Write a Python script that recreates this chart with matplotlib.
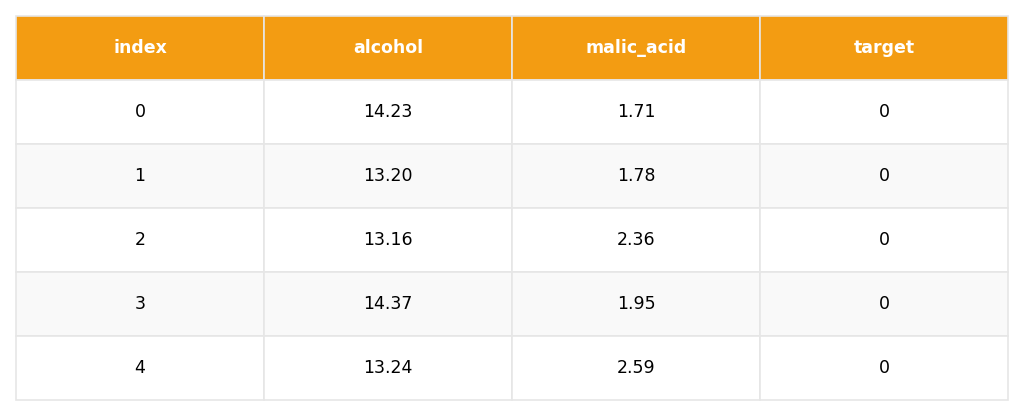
import matplotlib
matplotlib.use("Agg")
import matplotlib.pyplot as plt

columns = ["index", "alcohol", "malic_acid", "target"]
index = ["0", "1", "2", "3", "4"]
alcohol = ["14.23", "13.20", "13.16", "14.37", "13.24"]
malic_acid = ["1.71", "1.78", "2.36", "1.95", "2.59"]
target = ["0", "0", "0", "0", "0"]

rows = list(zip(index, alcohol, malic_acid, target))

fig = plt.figure(figsize=(10.24, 4.16), dpi=100)
ax = fig.add_axes([16/1024, 16/416, 992/1024, 384/416])
ax.axis("off")
tbl = ax.table(cellText=rows, colLabels=columns, cellLoc="center", bbox=[0, 0, 1, 1])
tbl.auto_set_font_size(False)
for (r, c), cell in tbl.get_celld().items():
    cell.set_edgecolor("#e6e6e6")
    cell.set_linewidth(1.2)
    if r == 0:
        cell.set_facecolor("#f39c12")
        cell.get_text().set_color("white")
        cell.get_text().set_fontweight("bold")
        cell.get_text().set_fontsize(12.5)
    else:
        cell.set_facecolor("#ffffff" if r % 2 == 1 else "#f9f9f9")
        cell.get_text().set_color("black")
        cell.get_text().set_fontsize(12.5)
fig.savefig("out.png", dpi=100)
